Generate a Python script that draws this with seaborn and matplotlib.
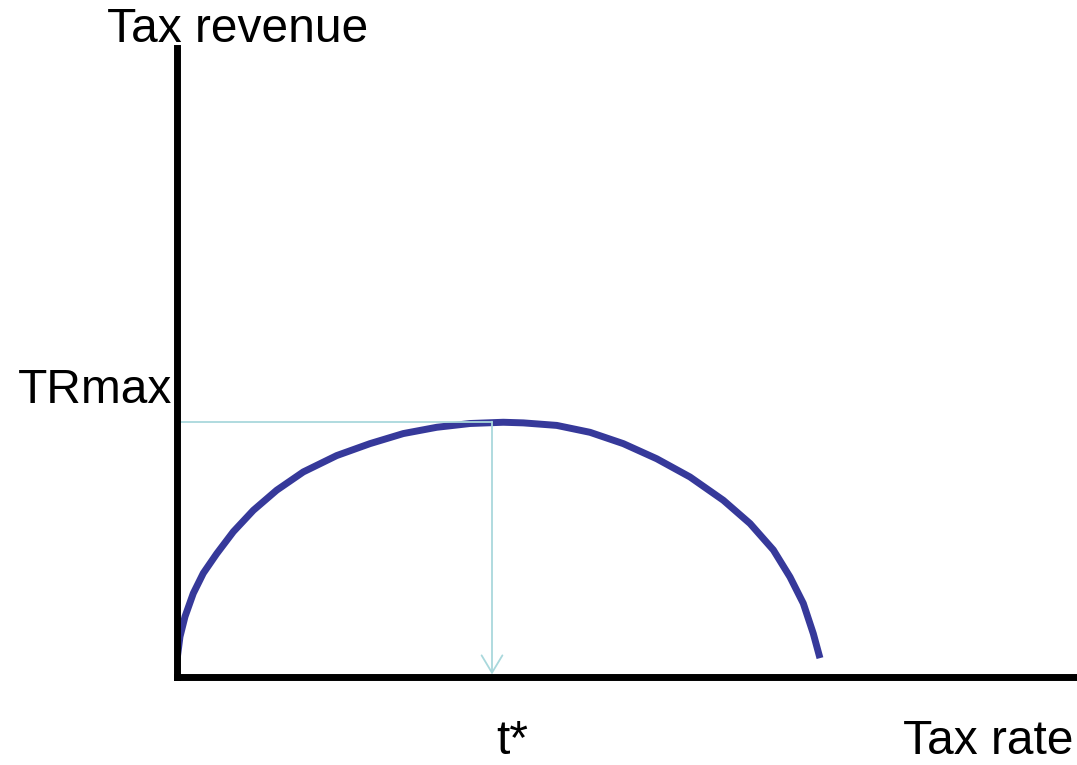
import matplotlib
matplotlib.use("Agg")
import matplotlib.pyplot as plt
import seaborn as sns
import pandas as pd

# Laffer curve (tax rate 0-100, revenue 0-100)
tax_rate = [0.0, 0.33, 0.89, 1.81, 2.92, 4.41, 6.26, 8.48, 11.08, 14.03,
            17.74, 21.44, 25.14, 28.86, 32.56, 36.26, 38.48, 42.19, 45.89,
            49.59, 53.30, 57.0, 60.7, 63.67, 66.26, 68.11, 69.59, 70.70, 71.44]
revenue = [2.7, 6.4, 9.6, 13.3, 16.5, 19.6, 23.1, 26.5, 29.7, 32.6,
           35.2, 37.1, 38.7, 39.7, 40.3, 40.5, 40.4, 40.0, 38.9,
           37.1, 34.7, 31.8, 28.1, 24.4, 20.2, 15.9, 11.7, 6.9, 3.0]
t_star = 35.0
tr_max = 40.6

curve = pd.DataFrame({"rate": tax_rate, "revenue": revenue})

sns.set_style("white")
plt.rcParams["font.family"] = ["Liberation Sans", "DejaVu Sans"]

W, H = 1077, 765
fig = plt.figure(figsize=(W / 100, H / 100), dpi=100)
ax = fig.add_axes([177 / W, (H - 677) / H, 900 / W, 629 / H])

sns.lineplot(data=curve, x="rate", y="revenue", ax=ax, color="#36399a",
             linewidth=5, sort=False, solid_capstyle="butt",
             solid_joinstyle="round")

# guide lines to the peak
ax.plot([0, t_star], [tr_max, tr_max], color="#a9d8dc", linewidth=1.3)
ax.annotate("", xy=(t_star, 0.4), xytext=(t_star, tr_max),
            arrowprops=dict(arrowstyle="->,head_length=0.5,head_width=0.3",
                            color="#a9d8dc", lw=1.3, mutation_scale=25,
                            shrinkA=0, shrinkB=0))

ax.set_xlim(0, 100)
ax.set_ylim(0, 100)
ax.set_xticks([])
ax.set_yticks([])
ax.set_xlabel("")
ax.set_ylabel("")
for side in ["top", "right"]:
    ax.spines[side].set_visible(False)
for side in ["left", "bottom"]:
    ax.spines[side].set_color("black")
    ax.spines[side].set_linewidth(5)

fs = 34.5
fig.text(107 / W, 1 - 42 / H, "Tax revenue", fontsize=fs, va="baseline", color="black")
fig.text(18 / W, 1 - 403 / H, "TRmax", fontsize=fs, va="baseline", color="black")
fig.text(496 / W, 1 - 754 / H, "t*", fontsize=fs, va="baseline", color="black")
fig.text(903 / W, 1 - 754 / H, "Tax rate", fontsize=fs, va="baseline", color="black")

fig.savefig("out.png", dpi=100)
